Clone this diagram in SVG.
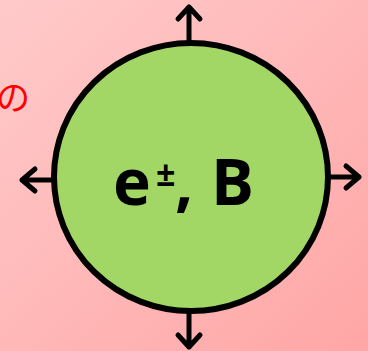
<svg xmlns="http://www.w3.org/2000/svg" width="368" height="351" viewBox="0 0 368 351">
<defs>
<linearGradient id="bg" x1="0" y1="0" x2="1" y2="1">
<stop offset="0" stop-color="#FFCACA"/>
<stop offset="1" stop-color="#FFA6A6"/>
</linearGradient>
<style>
.arrow{fill:none;stroke:#000;stroke-width:5;stroke-linecap:round;stroke-linejoin:round}
.lbl{font-family:"Open Sans","Liberation Sans",sans-serif;font-weight:bold;fill:#000}
.red{font-family:"Noto Sans CJK JP",sans-serif;fill:#FF0000}
</style>
</defs>
<rect x="0" y="0" width="368" height="351" fill="url(#bg)"/>
<text class="red" x="-4" y="110" font-size="34">の</text>
<g id="connectors">
<path class="arrow" d="M189,42 V7 M178,19 L189,7 L200,19"/>
<path class="arrow" d="M189,312 V347 M178,335 L189,347 L200,335"/>
<path class="arrow" d="M330,177 H359 M346,166 L359,177 L346,188"/>
<path class="arrow" d="M52,180 H22 M35,169 L22,180 L35,191"/>
</g>
<g id="node-center">
<ellipse cx="191" cy="177" rx="137" ry="134" fill="#A2D665" stroke="#000" stroke-width="6"/>
<text class="lbl" y="205" font-size="64"><tspan x="113">e</tspan><tspan x="156" y="186" font-size="34">±</tspan><tspan x="175" y="205">,</tspan><tspan x="211">B</tspan></text>
</g>
</svg>
